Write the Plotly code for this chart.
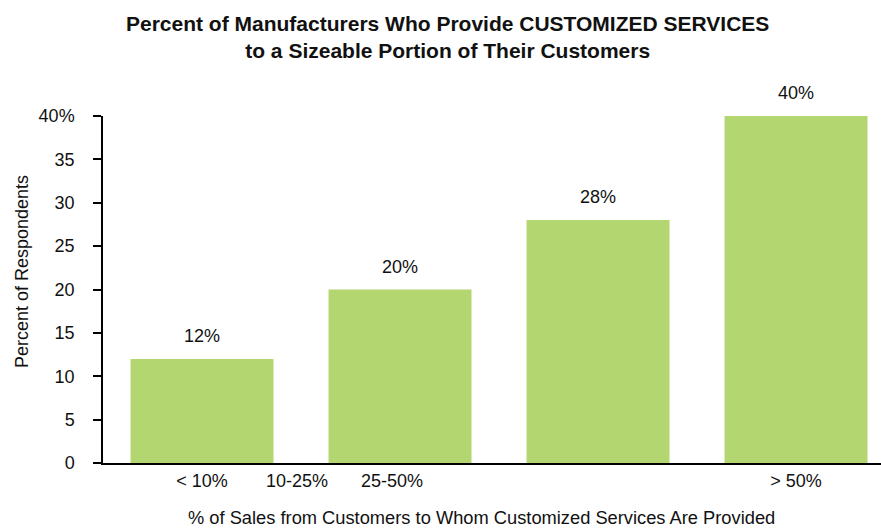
import plotly.graph_objects as go

categories = ["< 10%", "10-25%", "25-50%", "> 50%"]
values = [12, 20, 28, 40]
y_tick_vals = [0, 5, 10, 15, 20, 25, 30, 35, 40]
y_tick_text = ["0", "5", "10", "15", "20", "25", "30", "35", "40%"]
# positions of the category labels as they appear in the original (misaligned)
x_label_pos = [0, 0.48, 0.96, 3]

bar_x = list(range(len(categories)))
FONT = "Liberation Sans, Arial"

fig = go.Figure()
fig.add_trace(go.Bar(
    x=bar_x, y=values,
    marker=dict(color="#b4d670", line=dict(width=0)),
    width=0.722,
    hoverinfo="skip",
))

for xi, v in zip(bar_x, values):
    fig.add_annotation(x=xi, y=v, text=f"{v}%", showarrow=False,
                       yanchor="bottom", yshift=11,
                       font=dict(family=FONT, size=18, color="#111"))

# chart title
fig.add_annotation(
    xref="paper", yref="paper", x=0.4434, y=1.305, xanchor="center", yanchor="top",
    text="<b>Percent of Manufacturers Who Provide CUSTOMIZED SERVICES<br>to a Sizeable Portion of Their Customers</b>",
    showarrow=False, align="center",
    font=dict(family="Liberation Sans Narrow, Arial Narrow, Liberation Sans", size=21, color="#111"),
)
# x-axis title
fig.add_annotation(
    xref="paper", yref="paper", x=0.486, y=-0.1585, xanchor="center", yanchor="middle",
    text="% of Sales from Customers to Whom Customized Services Are Provided",
    showarrow=False, font=dict(family=FONT, size=18.3, color="#111"),
)
# y-axis title
fig.add_annotation(
    xref="paper", yref="paper", x=-0.104, y=0.5504, xanchor="center", yanchor="middle",
    text="Percent of Respondents", textangle=-90,
    showarrow=False, font=dict(family=FONT, size=18, color="#111"),
)

fig.update_layout(
    width=881, height=529,
    paper_bgcolor="white", plot_bgcolor="white",
    margin=dict(l=103, r=0, t=116, b=66),
    showlegend=False,
    font=dict(family=FONT, size=18, color="#111"),
)

fig.update_xaxes(
    range=[-0.5, 3.429],
    tickmode="array", tickvals=x_label_pos, ticktext=categories,
    showline=True, linecolor="black", linewidth=2,
    ticks="", showgrid=False, zeroline=False,
    tickfont=dict(size=18),
)
fig.update_yaxes(
    range=[0, 40],
    tickmode="array", tickvals=y_tick_vals, ticktext=y_tick_text,
    showline=True, linecolor="black", linewidth=1.5,
    ticks="outside", ticklen=8, tickcolor="black", tickwidth=1.5,
    ticklabelstandoff=15,
    showgrid=False, zeroline=False,
    tickfont=dict(size=18),
)

fig.write_html("out.html")
